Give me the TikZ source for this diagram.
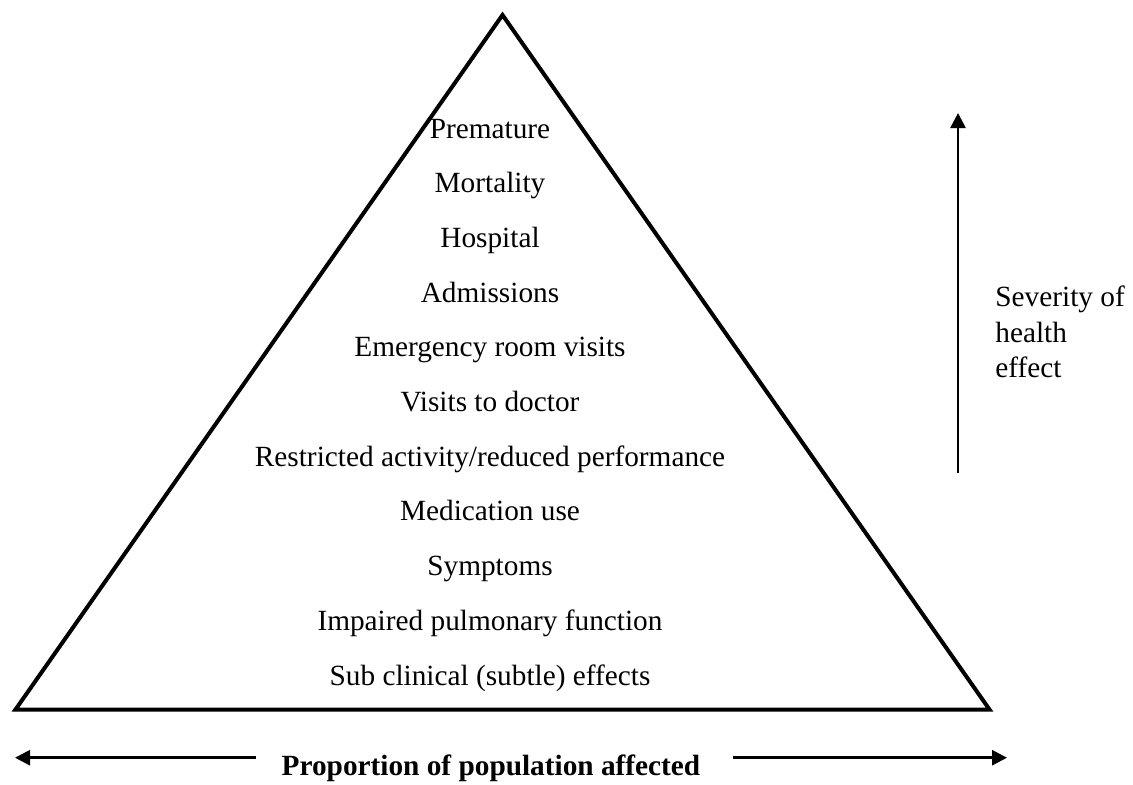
\documentclass[tikz,border=0pt]{standalone}
\usepackage{fontspec}
\setmainfont{Liberation Serif}
\usetikzlibrary{arrows.meta,positioning}

\begin{document}
\begin{tikzpicture}[
    x=0.5pt, y=-0.5pt,
    >={Triangle[width=7.5pt,length=7.5pt]},
    item/.style={anchor=base, inner sep=0pt, font=\fontsize{14.65pt}{17.75pt}\selectfont},
    edge/.style={line width=2pt, line join=miter},
    arr/.style={->, line width=1.3pt}
]
    \useasboundingbox (0,0) rectangle (1133,784);

    % pyramid
    \coordinate (apex) at (502.5,15);
    \coordinate (botleft) at (15.5,709.5);
    \coordinate (botright) at (989.5,709.5);
    \draw[edge] (apex) -- (botleft) -- (botright) -- cycle;

    \node[item] (prem) at (490,138) {Premature};
    \node[item] (mort) at (490,192.7) {Mortality};
    \node[item] (hosp) at (490,247.4) {Hospital};
    \node[item] (adm) at (490,302.1) {Admissions};
    \node[item] (emerg) at (490,356.8) {Emergency room visits};
    \node[item] (doc) at (490,411.5) {Visits to doctor};
    \node[item] (restr) at (490,466.2) {Restricted activity/reduced performance};
    \node[item] (med) at (490,520.9) {Medication use};
    \node[item] (sympt) at (490,575.6) {Symptoms};
    \node[item] (pulm) at (490,630.3) {Impaired pulmonary function};
    \node[item] (subcl) at (490,685) {Sub clinical (subtle) effects};

    % severity axis
    \coordinate (sevlow) at (958,473);
    \coordinate (sevtop) at (958,113);
    \draw[arr] (sevlow) -- (sevtop);
    \node[item, anchor=base west, align=left] (sev) at (995,377.7) {Severity of\\health\\effect};

    % proportion axis
    \node[item, font=\fontsize{14.65pt}{17.75pt}\selectfont\bfseries] (prop) at (491,775) {Proportion of population affected};
    \coordinate (propleft) at (15,757.7);
    \coordinate (propright) at (1007,757.7);
    \draw[arr] ([xshift=-12.5pt]prop.west |- propleft) -- (propleft);
    \draw[arr] ([xshift=16pt]prop.east |- propright) -- (propright);
\end{tikzpicture}
\end{document}
